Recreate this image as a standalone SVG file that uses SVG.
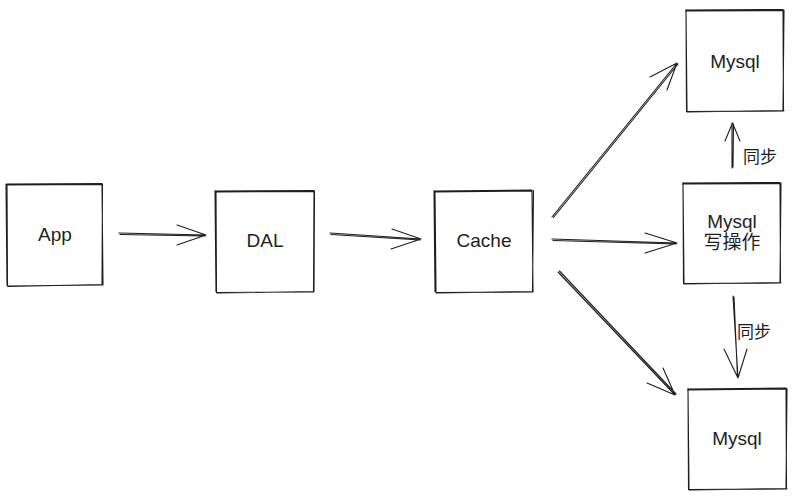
<svg xmlns="http://www.w3.org/2000/svg" width="797" height="498" viewBox="0 0 797 498">
<style>
.box{fill:none;stroke:#1e1e1e;stroke-width:1.1;stroke-linecap:round;stroke-linejoin:round}
.ln{fill:none;stroke:#1e1e1e;stroke-width:1.1;stroke-linecap:round;stroke-linejoin:round}
.t{font-family:"Liberation Sans",Arial,"Noto Sans CJK SC",sans-serif;font-size:19px;fill:#1e1e1e;text-anchor:middle}
.s{font-family:"Liberation Sans","Noto Sans CJK SC",sans-serif;font-size:17px;fill:#1e1e1e}
</style>
<rect width="797" height="498" fill="#ffffff"/>
<g id="app">
<path class="box" d="M7 184 L102 183.5 L103 285 L7.5 286 Z M6.5 185 L101.5 184.5 M102.5 184 L102 284 M8 286.5 L103 284.5 M6 184 L7 285"/>
<text class="t" x="55" y="241">App</text>
</g>
<g id="dal">
<path class="box" d="M216 191 L314 190.5 L313.5 292 L216.5 292.5 Z M215.5 192 L313.5 191.5 M314.5 191 L314 291 M217 293 L314 291.5 M215 190.5 L216 291.5"/>
<text class="t" x="265" y="247">DAL</text>
</g>
<g id="cache">
<path class="box" d="M435 191 L532 190 L533 292 L436 292.5 Z M434.5 192 L531.5 191 M533.5 190.5 L532.5 291 M436 293 L533 291.5 M434 190.5 L435 291.5"/>
<text class="t" x="484" y="247">Cache</text>
</g>
<g id="mysql-top">
<path class="box" d="M686 10 L783 9.5 L783.5 111 L686.5 111.5 Z M685.5 11 L782.5 10.5 M784 10 L783 110 M687 112 L784 110.5 M686 9.5 L687 110.5"/>
<text class="t" x="735" y="68">Mysql</text>
</g>
<g id="mysql-write">
<path class="box" d="M683 183 L780 182.5 L780.5 283 L683.5 283.5 Z M682.5 184 L779.5 183.5 M781 183 L780 282 M684 284 L781 282.5 M683 182.5 L684 282.5"/>
<text class="t" x="732" y="228">Mysql</text>
<text class="t" x="732" y="249">写操作</text>
</g>
<g id="mysql-bottom">
<path class="box" d="M688 389 L786 388 L786.5 489 L688.5 489.5 Z M687.5 390 L785.5 389 M787 388.5 L786 488 M689 490 L787 488.5 M688 388.5 L689 488.5"/>
<text class="t" x="737" y="445">Mysql</text>
</g>
<g id="connectors">
<path class="ln" d="M119 233 L206 235 M120 234.5 L205 236 M177 225 L206 235 L177 245"/>
<path class="ln" d="M330 233 L421 239 M331 234.5 L420 240 M392 229 L421 239 L391 249"/>
<path class="ln" d="M552 217 L677 63 M553.5 217.5 L678 64 M650 77 L677 63 L667 90"/>
<path class="ln" d="M552 239 L677 243 M553 240.5 L676 244 M645 233 L677 243 L645 253"/>
<path class="ln" d="M558 272 L675 395 M559.5 271 L676 394 M647 383 L675 395 L663 368"/>
<path class="ln" d="M732 168 L732 123 M733 167 L733.5 124 M725 141 L732.5 123 L740 141"/>
<path class="ln" d="M733 296 L738 378 M734 297 L737.5 377 M724 349 L738 378 L747 349"/>
<text class="s" x="743" y="163">同步</text>
<text class="s" x="737" y="338">同步</text>
</g>
</svg>
